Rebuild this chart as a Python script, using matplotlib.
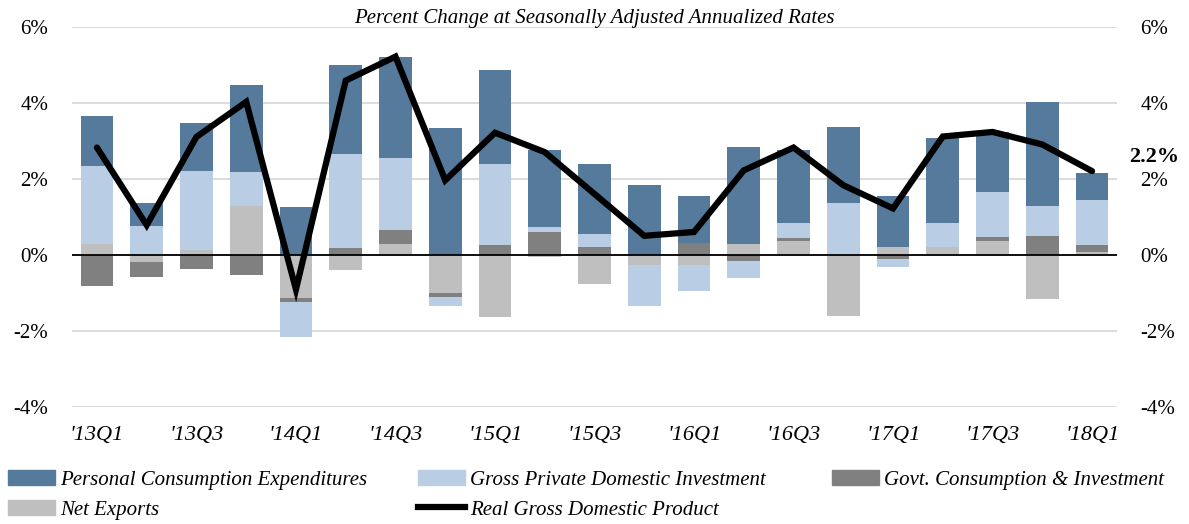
import numpy as np
import matplotlib.pyplot as plt
from matplotlib.lines import Line2D
from matplotlib.patches import Patch

quarters = ["'13Q1", "'13Q2", "'13Q3", "'13Q4", "'14Q1", "'14Q2", "'14Q3", "'14Q4",
            "'15Q1", "'15Q2", "'15Q3", "'15Q4", "'16Q1", "'16Q2", "'16Q3", "'16Q4",
            "'17Q1", "'17Q2", "'17Q3", "'17Q4", "'18Q1"]

pce = [1.31, 0.59, 1.27, 2.28, 1.27, 2.32, 2.65, 3.34, 2.47, 2.03, 1.86, 1.84,
       1.24, 2.56, 1.93, 1.99, 1.33, 2.24, 1.57, 2.74, 0.72]
gpdi = [2.04, 0.76, 2.08, 0.91, -0.93, 2.47, 1.89, -0.22, 2.12, 0.14, 0.33, -1.08,
        -0.67, -0.45, 0.38, 1.36, -0.20, 0.63, 1.19, 0.79, 1.17]
govt = [-0.83, -0.38, -0.37, -0.52, -0.11, 0.19, 0.38, -0.11, 0.26, 0.59, 0.21, 0.0,
        0.31, -0.16, 0.09, 0.0, -0.11, 0.0, 0.11, 0.49, 0.20]
nx = [0.29, -0.20, 0.12, 1.28, -1.13, -0.39, 0.28, -1.01, -1.63, -0.05, -0.76, -0.27,
      -0.27, 0.28, 0.36, -1.60, 0.21, 0.21, 0.36, -1.15, 0.07]
gdp = [2.82, 0.78, 3.10, 4.02, -0.91, 4.58, 5.21, 1.96, 3.21, 2.70, 1.60, 0.50,
       0.60, 2.22, 2.82, 1.83, 1.22, 3.11, 3.23, 2.90, 2.20]

names = ["Personal Consumption Expenditures", "Gross Private Domestic Investment",
         "Govt. Consumption & Investment", "Net Exports", "Real Gross Domestic Product"]
colors = {"pce": "#557a9c", "gpdi": "#b9cde4", "govt": "#808080", "nx": "#bfbfbf"}

serif = ["Liberation Serif", "DejaVu Serif"]

fig = plt.figure(figsize=(11.89, 5.24), dpi=100)
ax = fig.add_axes([0.0606, 0.2233, 0.8788, 0.7260])

x = np.arange(len(quarters))
w = 0.66
pos_base = np.zeros(len(x))
neg_base = np.zeros(len(x))
# Excel stacks series in this order, positives up and negatives down
for key, vals in [("nx", nx), ("govt", govt), ("gpdi", gpdi), ("pce", pce)]:
    v = np.array(vals)
    base = np.where(v >= 0, pos_base, neg_base)
    ax.bar(x, v, w, bottom=base, color=colors[key], zorder=2)
    pos_base = pos_base + np.where(v > 0, v, 0)
    neg_base = neg_base + np.where(v < 0, v, 0)

ax.plot(x, gdp, color="black", lw=4.5, solid_joinstyle="miter", solid_capstyle="round", zorder=4)
ax.axhline(0, color="black", lw=1.3, zorder=3)

ax.set_xlim(-0.5, len(x) - 0.5)
ax.set_ylim(-4, 6)
yt = [-4, -2, 0, 2, 4, 6]
ax.set_yticks(yt)
ax.set_yticklabels([f"{t}%" for t in yt], family=serif, fontsize=15)
ax.yaxis.grid(True, color="#d9d9d9", lw=1.3, zorder=0)
ax.set_axisbelow(True)
ax.tick_params(axis="y", length=0, pad=17, labelright=True, right=False)
ax.set_xticks(x[::2])
ax.set_xticklabels(quarters[::2], family=serif, style="italic", fontsize=16)
ax.tick_params(axis="x", length=0, pad=14)
for s in ax.spines.values():
    s.set_visible(False)

ax.annotate("2.2%", xy=(1.0, gdp[-1]), xycoords=("axes fraction", "data"),
            xytext=(9, 10), textcoords="offset points", ha="left", va="center",
            fontsize=16, fontweight="bold", family=serif)

fig.text(0.5, 0.965, "Percent Change at Seasonally Adjusted Annualized Rates",
         ha="center", va="center", family=serif, style="italic", fontsize=15)

# legend: one entry per slot, Excel-like grid of 3 equal columns
handles = [Patch(color=colors["pce"]), Patch(color=colors["gpdi"]), Patch(color=colors["govt"]),
           Patch(color=colors["nx"]), Line2D([], [], color="black", lw=4.5)]
slots = [(8, 480), (418, 480), (832, 480), (8, 510), (418, 510)]
for h, name, (px, py) in zip(handles, names, slots):
    fig.legend([h], [name], loc="center left", bbox_to_anchor=(px / 1189, 1 - py / 524),
               frameon=False, borderpad=0, borderaxespad=0,
               prop={"family": serif, "style": "italic", "size": 15},
               handlelength=2.25, handleheight=0.75, handletextpad=0.25)

fig.savefig("out.png", dpi=100)
